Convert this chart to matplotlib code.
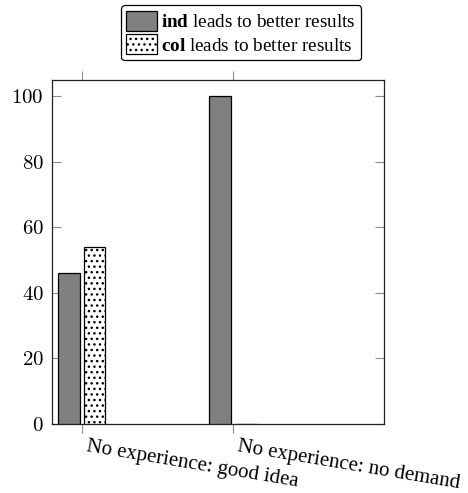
import matplotlib
matplotlib.use("Agg")
import matplotlib.pyplot as plt
import matplotlib.transforms as mtransforms
import numpy as np
from matplotlib.patches import Patch

plt.rcParams["font.family"] = ["Liberation Serif", "DejaVu Serif"]
plt.rcParams["mathtext.fontset"] = "cm"
plt.rcParams["hatch.linewidth"] = 1.0
plt.rcParams["hatch.color"] = "black"

# Data
categories = ["No experience: good idea", "No experience: no demand"]
ind_values = [46, 100]
col_values = [54, 0]
yticks = [0, 20, 40, 60, 80, 100]

C_IND = "#808080"
TICK_C = "#8c8c8c"
HATCH = "..."

fig = plt.figure(figsize=(4.68, 4.93), dpi=100)
ax = fig.add_axes([0.1111, 0.1400, 0.7094, 0.6977])

x = np.arange(len(categories), dtype=float)
w = 0.143
off = 0.085

ax.bar(x - off, ind_values, width=w, color=C_IND, edgecolor="black",
       linewidth=0.9, zorder=3)
ax.bar(x + off, col_values, width=w, color="white", edgecolor="black",
       linewidth=0.9, hatch=HATCH, zorder=3)

ax.set_xlim(-0.196, 1.998)
ax.set_ylim(0, 104.9)

ax.set_yticks(yticks)
ax.set_yticklabels([f"${v}$" for v in yticks], fontsize=15)
ax.set_xticks(x)
ax.set_xticklabels([])

# rotated category labels, anchored a little right of and below each tick
shift = mtransforms.ScaledTranslation(6 / 100, -13 / 100, fig.dpi_scale_trans)
for xi, name in zip(x, categories):
    ax.text(xi, 0, name, transform=ax.get_xaxis_transform() + shift,
            fontsize=15, rotation=-9.5, ha="left", va="top",
            rotation_mode="anchor")

ax.tick_params(axis="y", direction="in", left=True, right=True,
               length=6.5, width=0.8, color=TICK_C, pad=6)
ax.tick_params(axis="x", direction="out", bottom=True, top=True,
               length=6.5, width=0.8, color=TICK_C, pad=3)
for s in ax.spines.values():
    s.set_linewidth(0.9)
    s.set_color("#222222")

# legend with bold keyword
plt.rcParams["mathtext.fontset"] = "custom"
plt.rcParams["mathtext.rm"] = "Liberation Serif"
plt.rcParams["mathtext.bf"] = "Liberation Serif:bold"
handles = [
    Patch(facecolor=C_IND, edgecolor="black", linewidth=0.9),
    Patch(facecolor="white", edgecolor="black", linewidth=0.9, hatch=HATCH),
]
labels = [r"$\bf{ind}$ leads to better results", r"$\bf{col}$ leads to better results"]
leg = fig.legend(handles, labels, loc="upper center", bbox_to_anchor=(0.515, 0.99),
                 fontsize=13.8, handlelength=1.6, handleheight=1.25,
                 handletextpad=0.2, labelspacing=0.15, borderpad=0.3,
                 borderaxespad=0, fancybox=True, framealpha=1, edgecolor="black")
leg.get_frame().set_linewidth(0.9)

fig.savefig("out.png", dpi=100)
